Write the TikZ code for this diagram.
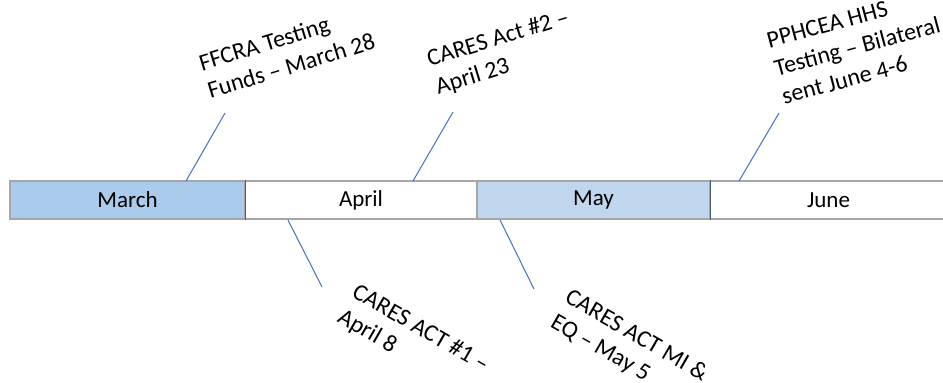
\documentclass[tikz,border=0pt]{standalone}
\usepackage{fontspec}
\setmainfont{Carlito}
\definecolor{marchblue}{HTML}{AACBEC}
\definecolor{mayblue}{HTML}{BFD6EC}
\definecolor{barborder}{HTML}{A6A6A6}
\definecolor{divider}{HTML}{4F5B69}
\definecolor{conncol}{HTML}{4472C4}
\begin{document}
\begin{tikzpicture}[x=1pt,y=-1pt,
  seg/.style={draw=barborder, line width=1.3pt, minimum height=38pt, inner sep=0pt, font=\fontsize{23}{27}\selectfont},
  conn/.style={draw=conncol, line width=1pt},
  lbl/.style={anchor=north west, inner sep=0pt, align=left, font=\fontsize{24}{29}\selectfont}]
\clip (0,0) rectangle (943,383);
\fill[white] (0,0) rectangle (943,383);
% bar segments
\node[seg, fill=marchblue, minimum width=235pt] (march) at (127.5,200) {March};
\node[seg, fill=white, minimum width=232pt] (april) at (361,200) {April};
\node[seg, fill=mayblue, minimum width=233pt] (may) at (593.5,200) {May};
\node[seg, fill=white, minimum width=237pt] (june) at (828.5,200) {June};
\draw[divider, line width=1.3pt] (march.north east) -- (march.south east);
\draw[divider, line width=1.3pt] (may.north east) -- (may.south east);
% labels
\node[lbl, rotate=17] (ffcra) at (197,55) {FFCRA Testing\\Funds – March 28};
\node[lbl, rotate=17] (cares2) at (425,51) {CARES Act \#2 –\\April 23};
\node[lbl, rotate=15] (pphcea) at (765,33) {PPHCEA HHS\\Testing – Bilateral\\sent June 4-6};
\node[lbl, rotate=-30] (cares1) at (359,282) {CARES ACT \#1 –\\April 8};
\node[lbl, rotate=-30] (caresmi) at (572,287) {CARES ACT MI \&\\EQ – May 5};
% connectors
\coordinate (f1) at (186,181); \coordinate (f2) at (225,113);
\coordinate (a1) at (413,181); \coordinate (a2) at (453,112);
\coordinate (p1) at (739,181); \coordinate (p2) at (779,113);
\coordinate (b1) at (288,220); \coordinate (b2) at (322,287);
\coordinate (m1) at (500,220); \coordinate (m2) at (534,289);
\draw[conn] (f1) -- (f2);
\draw[conn] (a1) -- (a2);
\draw[conn] (p1) -- (p2);
\draw[conn] (b1) -- (b2);
\draw[conn] (m1) -- (m2);
\end{tikzpicture}
\end{document}
